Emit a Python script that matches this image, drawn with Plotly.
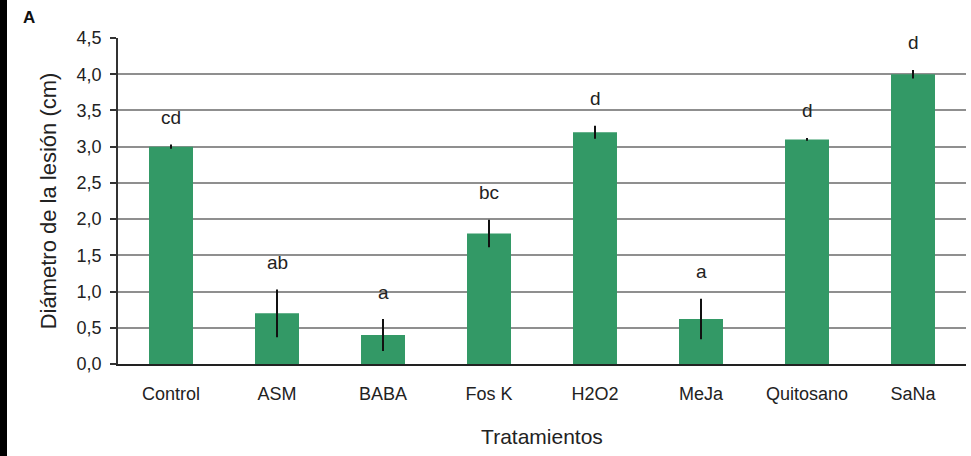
import plotly.graph_objects as go

# Lesion diameter per treatment (cm), with error and significance letters
tratamientos = ["Control", "ASM", "BABA", "Fos K", "H2O2", "MeJa", "Quitosano", "SaNa"]
diametro = [3.0, 0.7, 0.4, 1.8, 3.2, 0.62, 3.1, 4.0]
error = [0.03, 0.33, 0.22, 0.19, 0.09, 0.28, 0.02, 0.06]
letras = ["cd", "ab", "a", "bc", "d", "a", "d", "d"]
y_ticks = [0.0, 0.5, 1.0, 1.5, 2.0, 2.5, 3.0, 3.5, 4.0, 4.5]

FONT = "Liberation Sans, Arial, sans-serif"
GREEN = "#339966"

fig = go.Figure()
fig.add_trace(go.Bar(
    x=tratamientos,
    y=diametro,
    marker=dict(color=GREEN, line=dict(width=0)),
    error_y=dict(type="data", array=error, visible=True,
                 color="#111111", thickness=2, width=0),
    showlegend=False,
))

# significance letters above each error bar
for cat, v, e, lt in zip(tratamientos, diametro, error, letras):
    fig.add_annotation(x=cat, y=v + e, text=lt, showarrow=False,
                       yanchor="middle", yshift=27,
                       font=dict(family=FONT, size=19, color="#222222"))

# panel letter
fig.add_annotation(xref="paper", yref="paper", x=-97 / 848, y=1 + 20 / 326,
                   text="<b>A</b>", showarrow=False, xanchor="left", yanchor="middle",
                   font=dict(family=FONT, size=17, color="#111111"))

# dark strip at the left edge of the page
fig.add_shape(type="rect", xref="paper", yref="paper",
              x0=-118 / 848, x1=-111 / 848, y0=-92 / 326, y1=1 + 38 / 326,
              fillcolor="black", line=dict(width=0), layer="above")

fig.update_layout(
    width=971, height=456,
    margin=dict(l=118, r=5, t=38, b=92),
    paper_bgcolor="white", plot_bgcolor="white",
    separators=",.",
    bargap=0.585,
    font=dict(family=FONT, color="#222222"),
    xaxis=dict(
        showline=True, linecolor="#222222", linewidth=2,
        ticks="", showgrid=False,
        tickfont=dict(size=18, color="#222222"),
        ticklabelstandoff=12,
        title=dict(text="Tratamientos", font=dict(size=21, color="#222222"), standoff=27),
    ),
    yaxis=dict(
        range=[0, 4.5], tickvals=y_ticks, tickformat=".1f",
        showline=True, linecolor="#333333", linewidth=1.5,
        ticks="outside", ticklen=6, tickcolor="#333333", tickwidth=1.5,
        showgrid=True, gridcolor="#8f8f8f", gridwidth=1.5,
        zeroline=False,
        tickfont=dict(size=18, color="#222222"),
        ticklabelstandoff=5,
        title=dict(text="Diámetro de la lesión (cm)", font=dict(size=22, color="#222222"), standoff=14),
    ),
)

fig.write_html("out.html")
